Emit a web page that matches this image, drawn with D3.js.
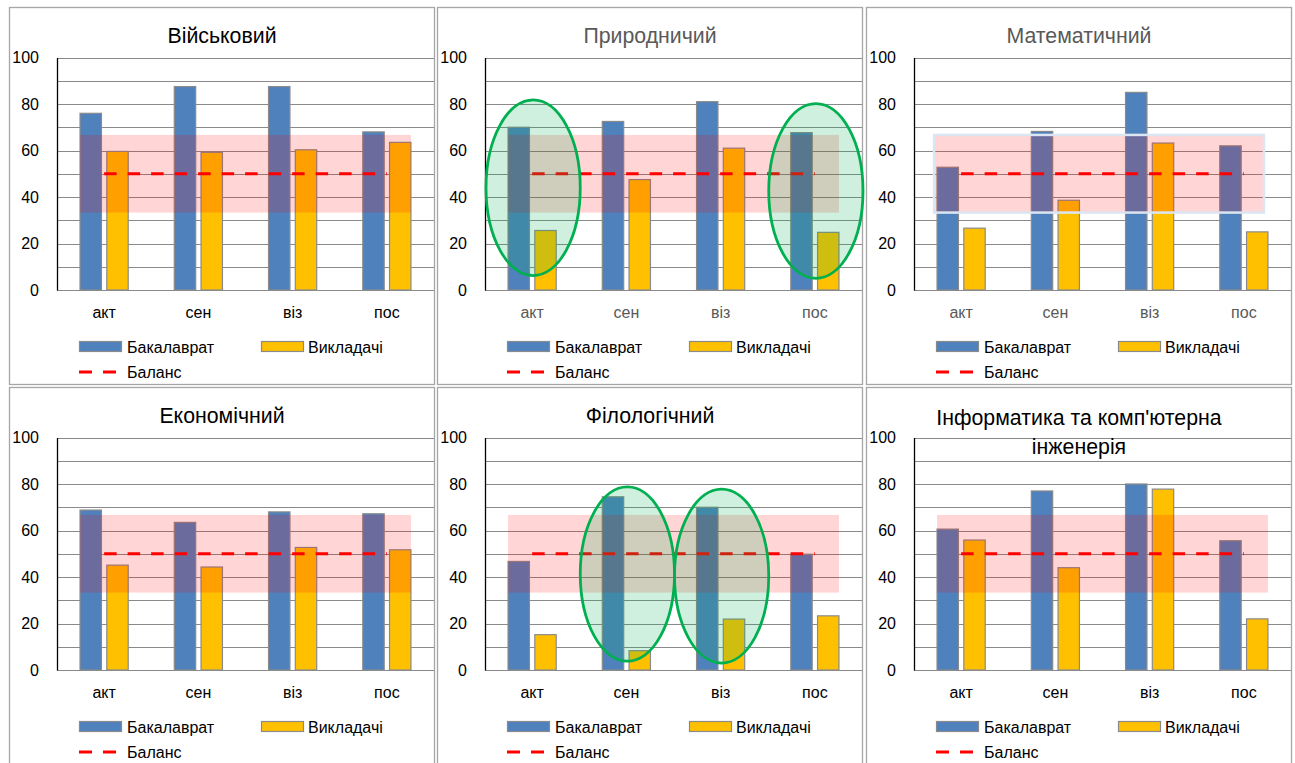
<!DOCTYPE html>
<html>
<head>
<meta charset="utf-8">
<script src="https://cdn.jsdelivr.net/npm/d3@7"></script>
<style>
  html, body { margin: 0; padding: 0; background: #fff; }
  svg { display: block; font-family: "Liberation Sans", Arial, sans-serif; }
</style>
</head>
<body>
<svg id="chart" width="1295" height="763"></svg>
<script>
// ---------- data ----------
const categories = ["акт", "сен", "віз", "пос"];
const seriesNames = ["Бакалаврат", "Викладачі", "Баланс"];
const panelTitles = [
  ["Військовий"],
  ["Природничий"],
  ["Математичний"],
  ["Економічний"],
  ["Філологічний"],
  ["Інформатика та комп'ютерна", "інженерія"]
];
const bachelorValues = [
  [76, 87.5, 87.5, 68],
  [70, 72.5, 81, 67.7],
  [52.8, 68.2, 85, 62],
  [68.8, 63.5, 68, 67.2],
  [46.7, 74.5, 70, 49.8],
  [60.6, 77, 80, 55.6]
];
const teacherValues = [
  [59.6, 59.2, 60.3, 63.5],
  [25.6, 47.5, 61, 24.8],
  [26.6, 38.6, 63.2, 25],
  [45.1, 44.3, 52.7, 51.7],
  [15.2, 8.3, 21.9, 23.3],
  [55.9, 44, 77.8, 22]
];
const balanceValues = [50, 50, 50, 50];
const balanceBand = [33.3, 66.7];
const yTickLabels = [0, 20, 40, 60, 80, 100];
const gridValues = [0, 10, 20, 30, 40, 50, 60, 70, 80, 90, 100];
// highlighted groups (ellipses): category, centre value, vertical radius (value units)
const highlights = [
  [],
  [{cat: "акт", cy: 44, ry: 37.8}, {cat: "пос", cy: 42.6, ry: 37.6}],
  [],
  [],
  [{cat: "сен", cy: 41.3, ry: 37.5}, {cat: "віз", cy: 40.4, ry: 37.4}],
  []
];
const greyTextPanels = [1, 2];
const outlinedBandPanels = [2];

// ---------- layout ----------
const colX = [9, 437, 866];
const rowY = [7, 387];
const panelW = 426, panelH = 377;
const plotLeft = 48, plotRight = panelW - 1;
const plotTop = 50.5, plotBottom = 283;

const COLORS = {
  blue: "#4F81BD", yellow: "#FFC000", barStroke: "#8a8a8a",
  grid: "#8a8a8a", band: "rgba(255,0,0,0.165)", line: "#FF0000",
  ellStroke: "#00B050", ellFill: "rgba(0,176,80,0.19)", border: "#a6a6a6"
};

const svg = d3.select("#chart");
svg.append("rect").attr("width", 1295).attr("height", 763).attr("fill", "#fff");

const x = d3.scaleBand().domain(categories).range([plotLeft, plotRight])
  .paddingInner(0.489).paddingOuter(0.2445);
const xs = d3.scaleBand().domain(["b", "t"]).range([0, x.bandwidth()])
  .paddingInner(0.2).paddingOuter(0);
const y = d3.scaleLinear().domain([0, 100]).range([plotBottom, plotTop]);
const cx = c => x(c) + x.bandwidth() / 2;

panelTitles.forEach((title, i) => {
  const px = colX[i % 3], py = rowY[Math.floor(i / 3)];
  const g = svg.append("g").attr("transform", `translate(${px},${py})`);
  const textGrey = greyTextPanels.includes(i);

  // border
  g.append("rect").attr("x", 0.5).attr("y", 0.5).attr("width", panelW - 1).attr("height", panelH)
    .attr("fill", "#fff").attr("stroke", COLORS.border).attr("stroke-width", 1.3);

  // gridlines
  g.append("g").selectAll("line").data(gridValues).join("line")
    .attr("x1", plotLeft).attr("x2", plotRight)
    .attr("y1", d => Math.round(y(d)) + 0.5).attr("y2", d => Math.round(y(d)) + 0.5)
    .attr("stroke", COLORS.grid).attr("stroke-width", 1.2);

  // y axis
  const ya = d3.axisLeft(y).tickValues(yTickLabels).tickSize(0).tickPadding(18);
  const yg = g.append("g").attr("transform", `translate(${plotLeft},0)`).call(ya);
  yg.select(".domain").attr("stroke", "#000").attr("stroke-width", 1.3);
  yg.selectAll("text").attr("font-size", 16).attr("fill", "#000")
    .attr("font-family", "'Liberation Sans', Arial, sans-serif");

  // x axis labels
  const xa = d3.axisBottom(x).tickSize(0).tickPadding(17);
  const xg = g.append("g").attr("transform", `translate(0,${plotBottom})`).call(xa);
  xg.select(".domain").remove();
  xg.selectAll("text").attr("font-size", 16).attr("fill", textGrey ? "#595959" : "#000")
    .attr("font-family", "'Liberation Sans', Arial, sans-serif");

  // bars
  const barData = categories.map((c, k) => [
    {cat: c, key: "b", v: bachelorValues[i][k], color: COLORS.blue},
    {cat: c, key: "t", v: teacherValues[i][k], color: COLORS.yellow}
  ]).flat();
  g.append("g").selectAll("rect").data(barData).join("rect")
    .attr("x", d => x(d.cat) + xs(d.key))
    .attr("width", xs.bandwidth())
    .attr("y", d => y(d.v))
    .attr("height", d => y(0) - y(d.v))
    .attr("fill", d => d.color)
    .attr("stroke", COLORS.barStroke).attr("stroke-width", 1.2);

  // balance band
  const bx0 = x(categories[0]) + xs("b");
  const bx1 = x(categories[categories.length - 1]) + xs("t") + xs.bandwidth();
  const outlined = outlinedBandPanels.includes(i);
  g.append("rect")
    .attr("x", outlined ? bx0 - 3 : bx0)
    .attr("width", outlined ? bx1 - bx0 - 1 : bx1 - bx0)
    .attr("y", y(balanceBand[1]))
    .attr("height", y(balanceBand[0]) - y(balanceBand[1]))
    .attr("fill", COLORS.band)
    .attr("stroke", outlined ? "#dce6f2" : "none")
    .attr("stroke-width", outlined ? 2.5 : 0);

  // balance line
  const line = d3.line().x((d, k) => cx(categories[k])).y(d => y(d));
  g.append("path").datum(balanceValues).attr("d", line)
    .attr("fill", "none").attr("stroke", COLORS.line).attr("stroke-width", 3)
    .attr("stroke-dasharray", "12.5,11");

  // highlight ellipses
  g.append("g").selectAll("ellipse").data(highlights[i]).join("ellipse")
    .attr("cx", d => cx(d.cat) + 1)
    .attr("cy", d => y(d.cy))
    .attr("rx", x.step() / 2)
    .attr("ry", d => y(0) - y(d.ry))
    .attr("fill", COLORS.ellFill)
    .attr("stroke", COLORS.ellStroke).attr("stroke-width", 2.8);

  // title
  const tt = g.append("text").attr("text-anchor", "middle")
    .attr("font-size", 21.3).attr("fill", textGrey ? "#595959" : "#000");
  title.forEach((t, k) => {
    tt.append("tspan").attr("x", panelW / 2)
      .attr("y", (title.length > 1 ? 37.5 : 35.5) + k * 29)
      .text(t);
  });

  // legend
  const lg = g.append("g").attr("font-size", 16).attr("fill", "#000");
  lg.append("rect").attr("x", 70.5).attr("y", 334.5).attr("width", 42).attr("height", 10)
    .attr("fill", COLORS.blue).attr("stroke", COLORS.barStroke).attr("stroke-width", 1.2);
  lg.append("text").attr("x", 118).attr("y", 345.5).text(seriesNames[0]);
  lg.append("rect").attr("x", 252.5).attr("y", 334.5).attr("width", 42).attr("height", 10)
    .attr("fill", COLORS.yellow).attr("stroke", COLORS.barStroke).attr("stroke-width", 1.2);
  lg.append("text").attr("x", 299).attr("y", 345.5).text(seriesNames[1]);
  lg.append("line").attr("x1", 70).attr("x2", 107).attr("y1", 365).attr("y2", 365)
    .attr("stroke", COLORS.line).attr("stroke-width", 3).attr("stroke-dasharray", "13,11");
  lg.append("text").attr("x", 118).attr("y", 370.5).text(seriesNames[2]);
});
</script>
</body>
</html>
